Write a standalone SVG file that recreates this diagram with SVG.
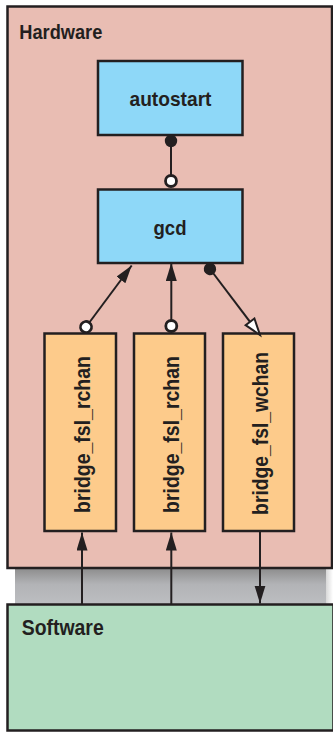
<svg xmlns="http://www.w3.org/2000/svg" width="333" height="732" viewBox="0 0 333 732">
  <defs>
    <style>
      .box { stroke: #231f20; stroke-width: 2.5; }
      .hw { fill: #e9bdb3; }
      .sw { fill: #b1dcc0; }
      .blue { fill: #8ed8f8; }
      .orange { fill: #fdcb8b; }
      .lbl { font-family: "Liberation Sans", Arial, sans-serif; font-weight: bold; fill: #231f20; }
      .conn { stroke: #231f20; stroke-width: 2; fill: none; }
    </style>
    <linearGradient id="band" x1="0" y1="0" x2="0" y2="1">
      <stop offset="0" stop-color="#8c8c8c"/>
      <stop offset="0.45" stop-color="#b2b3b6"/>
      <stop offset="1" stop-color="#bcbec1"/>
    </linearGradient>
    <linearGradient id="fade" x1="0" y1="0" x2="1" y2="0">
      <stop offset="0" stop-color="#d8d8d8"/>
      <stop offset="1" stop-color="#ffffff"/>
    </linearGradient>
    <marker id="arrow" markerUnits="userSpaceOnUse" markerWidth="20" markerHeight="12" refX="18" refY="5.5" orient="auto">
      <path d="M0,0 L18,5.5 L0,11 z" fill="#231f20"/>
    </marker>
    <marker id="otri" markerUnits="userSpaceOnUse" markerWidth="22" markerHeight="16" refX="18" refY="7" orient="auto">
      <path d="M1.5,1.5 L18,7 L1.5,12.5 z" fill="#ffffff" stroke="#231f20" stroke-width="2"/>
    </marker>
    <marker id="dot" markerUnits="userSpaceOnUse" markerWidth="14" markerHeight="14" refX="7" refY="7" orient="auto">
      <circle cx="7" cy="7" r="6.2" fill="#231f20"/>
    </marker>
    <marker id="ring" markerUnits="userSpaceOnUse" markerWidth="16" markerHeight="16" refX="8" refY="8" orient="auto">
      <circle cx="8" cy="8" r="5.5" fill="#ffffff" stroke="#231f20" stroke-width="2.8"/>
    </marker>
  </defs>

  <rect x="0" y="0" width="333" height="732" fill="#ffffff"/>

  <g id="band-shadow">
    <rect x="15" y="568" width="311" height="36" fill="url(#band)"/>
    <rect x="326" y="568" width="7" height="36" fill="url(#fade)"/>
  </g>

  <g id="hardware">
    <rect class="box hw" x="7.5" y="6.5" width="324.5" height="561.5" stroke-width="2"/>
    <text class="lbl" x="19.3" y="38.7" font-size="21" textLength="83" lengthAdjust="spacingAndGlyphs">Hardware</text>
  </g>

  <g id="software">
    <rect class="box sw" x="7.5" y="604.5" width="326" height="126" stroke-width="2"/>
    <text class="lbl" x="21.7" y="635" font-size="21.5" textLength="82" lengthAdjust="spacingAndGlyphs">Software</text>
  </g>

  <g id="autostart">
    <rect class="box blue" x="98" y="61" width="144.5" height="74"/>
    <text class="lbl" x="170.5" y="105.7" font-size="21" text-anchor="middle" textLength="82" lengthAdjust="spacingAndGlyphs">autostart</text>
  </g>

  <g id="gcd">
    <rect class="box blue" x="98" y="189.5" width="144.5" height="73.5"/>
    <text class="lbl" x="170" y="235" font-size="21" text-anchor="middle" textLength="33" lengthAdjust="spacingAndGlyphs">gcd</text>
  </g>

  <g id="bridge_rchan_1">
    <rect class="box orange" x="44.5" y="333.5" width="71.5" height="197.5"/>
    <text class="lbl" transform="translate(89.5,434.5) rotate(-90)" x="0" y="0" font-size="22" text-anchor="middle" textLength="157" lengthAdjust="spacingAndGlyphs">bridge_fsl_rchan</text>
  </g>

  <g id="bridge_rchan_2">
    <rect class="box orange" x="134" y="333.5" width="71" height="197.5"/>
    <text class="lbl" transform="translate(179.3,434.5) rotate(-90)" x="0" y="0" font-size="22" text-anchor="middle" textLength="157" lengthAdjust="spacingAndGlyphs">bridge_fsl_rchan</text>
  </g>

  <g id="bridge_wchan">
    <rect class="box orange" x="223" y="333.5" width="71" height="197.5"/>
    <text class="lbl" transform="translate(267.7,433.4) rotate(-90)" x="0" y="0" font-size="22" text-anchor="middle" textLength="163" lengthAdjust="spacingAndGlyphs">bridge_fsl_wchan</text>
  </g>

  <g id="connectors">
    <line class="conn" x1="171" y1="141" x2="171" y2="181" marker-start="url(#dot)" marker-end="url(#ring)"/>
    <line class="conn" x1="86" y1="327" x2="131.7" y2="265.5" marker-start="url(#ring)" marker-end="url(#arrow)"/>
    <line class="conn" x1="171.3" y1="326" x2="171.3" y2="263" marker-start="url(#ring)" marker-end="url(#arrow)"/>
    <line class="conn" x1="210" y1="269" x2="260" y2="335" marker-start="url(#dot)" marker-end="url(#otri)"/>
    <line class="conn" x1="82" y1="604" x2="82" y2="532.5" marker-end="url(#arrow)"/>
    <line class="conn" x1="171.3" y1="604" x2="171.3" y2="532.5" marker-end="url(#arrow)"/>
    <line class="conn" x1="260" y1="531" x2="260" y2="603.5" marker-end="url(#arrow)"/>
  </g>
</svg>
